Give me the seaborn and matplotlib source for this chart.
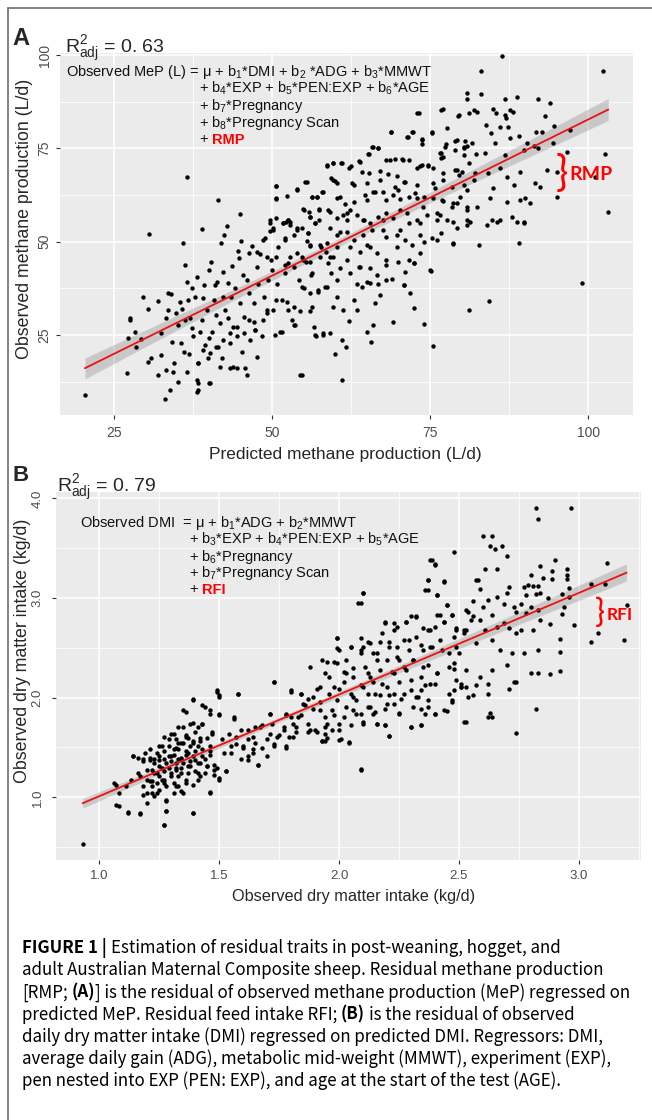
import numpy as np
import pandas as pd
import seaborn as sns
import matplotlib
matplotlib.use('Agg')
import matplotlib.pyplot as plt
from matplotlib.lines import Line2D
from matplotlib.font_manager import FontProperties

# ---------------- panel A: predicted vs observed methane production (L/d)
# points, grouped by region (x = predicted, y = observed)
mep_lower_left = [
    (20.4, 8.9),
    (27.0, 14.9), (27.2, 24.1), (27.5, 29.5), (27.6, 29.0), (28.3, 25.9), (28.5, 21.9), (29.3, 23.8), (29.6, 35.3), (30.4, 32.1),
    (30.4, 17.7), (30.6, 52.2), (30.9, 18.7), (32.0, 14.3), (32.0, 34.1), (32.5, 19.6), (32.5, 25.6), (33.0, 7.8), (33.3, 15.6), (33.3, 29.5),
    (33.5, 31.7), (33.5, 36.2), (33.8, 10.3), (34.0, 35.9), (34.1, 23.2), (34.3, 15.2), (34.5, 17.4), (34.8, 30.8), (35.1, 27.7), (35.1, 12.5),
    (35.4, 33.9), (35.6, 22.8), (35.8, 32.0), (35.9, 49.7), (36.0, 20.5), (36.2, 29.0), (36.2, 43.8), (36.5, 15.2), (36.6, 39.3), (36.7, 34.4),
    (36.9, 19.9), (37.0, 29.5), (37.3, 26.8), (37.4, 37.5), (37.5, 24.6), (37.8, 35.3), (38.1, 40.6), (38.2, 9.8), (38.3, 17.4), (38.3, 12.2),
    (38.6, 25.9), (38.9, 29.0), (39.0, 53.3), (39.1, 34.8), (39.2, 38.4), (39.4, 22.3), (39.7, 31.7), (40.0, 42.4), (40.0, 24.1), (40.1, 12.2),
    (40.3, 44.6), (40.5, 25.9), (40.8, 34.4), (41.0, 38.4), (41.2, 30.4), (41.3, 39.3), (41.5, 21.9), (41.8, 28.1), (41.9, 49.7), (42.1, 18.7),
    (42.2, 35.3), (42.3, 42.0), (42.4, 51.8), (42.6, 31.7), (42.8, 54.2), (43.0, 29.5), (43.1, 38.9), (43.4, 22.8), (43.5, 35.3), (43.6, 43.5),
    (43.8, 27.2), (43.9, 16.5), (44.2, 37.5), (44.5, 24.6), (44.6, 47.5), (44.7, 45.7), (44.9, 33.5), (45.0, 57.4), (45.1, 50.2), (45.2, 20.5),
    (45.4, 41.1), (45.5, 29.9), (45.7, 16.1), (46.0, 39.7), (46.3, 47.1), (46.4, 36.2), (46.5, 23.7), (46.8, 48.9), (47.1, 28.6), (47.2, 33.5),
    (47.3, 26.3), (47.6, 19.2), (47.7, 43.3), (47.8, 38.8), (48.1, 46.6), (48.4, 24.6), (48.7, 35.3), (48.9, 50.9), (49.2, 30.8), (49.4, 39.7),
    (49.6, 53.0), (49.8, 45.1), (50.0, 42.4), (50.2, 31.7), (50.5, 25.0), (50.6, 56.3), (50.8, 38.8), (51.0, 48.7), (51.3, 25.9), (51.6, 34.4),
    (51.8, 54.9), (52.1, 41.5), (52.2, 55.4), (52.5, 44.2), (52.6, 31.7), (52.9, 46.0), (53.1, 29.0), (53.4, 51.8), (53.7, 27.7), (54.0, 47.1),
    (54.2, 39.7), (54.5, 14.3), (54.8, 53.6), (55.0, 37.5), (55.3, 44.6), (55.5, 50.2), (55.8, 58.0), (56.1, 41.1), (56.3, 32.6), (56.6, 27.2),
    (56.9, 24.6), (57.2, 36.6), (57.5, 55.8), (57.7, 48.7), (58.0, 25.5), (58.3, 37.9), (58.8, 58.5), (59.1, 46.0),
]
mep_middle = [
    (50.7, 64.9), (53.9, 64.1), (55.5, 66.1), (50.7, 61.6), (56.3, 62.1), (57.1, 62.1), (54.9, 58.7), (56.0, 56.7), (57.5, 58.7), (52.8, 55.4),
    (53.9, 53.1), (55.7, 52.3), (56.8, 54.9), (49.7, 55.8), (50.2, 53.6), (52.1, 50.9), (52.6, 55.8), (56.0, 48.9), (48.6, 50.5), (47.6, 47.3),
    (49.2, 46.0), (50.7, 46.0), (52.1, 43.8), (53.4, 43.3), (54.9, 45.1), (56.3, 41.5), (54.7, 37.9), (56.0, 36.2), (57.3, 37.0), (56.0, 31.3),
    (54.4, 31.3), (53.4, 32.6), (52.3, 33.9), (50.7, 34.4), (49.2, 31.7), (48.6, 29.0), (47.3, 26.3), (46.3, 29.0), (45.5, 25.4), (44.4, 27.2),
    (43.4, 25.4), (42.3, 23.7), (41.2, 21.9), (40.2, 20.1), (39.9, 18.7), (39.1, 21.0), (38.3, 17.4), (38.1, 12.9), (38.3, 10.2), (40.2, 12.0),
    (41.8, 16.5), (43.4, 16.1), (44.4, 16.1), (46.0, 14.3), (51.5, 25.7), (53.4, 27.7), (54.7, 14.3), (56.8, 25.0), (41.4, 61.2), (36.6, 67.4),
]
mep_dense = [
    (72.9, 84.6), (76.8, 85.3), (79.5, 84.0), (68.8, 79.5), (71.4, 78.2), (72.3, 79.5), (73.8, 77.5), (75.3, 79.3), (73.7, 76.2), (77.5, 76.1),
    (79.0, 77.0), (80.3, 75.5), (80.6, 77.0), (65.9, 75.5), (66.8, 75.2), (65.2, 73.5), (76.7, 73.7), (80.3, 73.3), (58.7, 70.6), (59.7, 71.0),
    (61.0, 71.2), (62.1, 69.7), (63.8, 71.7), (64.2, 68.6), (65.4, 68.3), (67.1, 69.0), (68.1, 71.9), (69.4, 72.1), (70.7, 71.9), (68.4, 68.2),
    (69.7, 67.7), (71.0, 66.1), (72.9, 69.9), (73.8, 70.6), (74.7, 70.4), (76.8, 72.4), (77.1, 68.3), (79.0, 69.2), (79.5, 67.9), (80.0, 68.8),
    (59.4, 67.0), (60.0, 66.4), (62.6, 65.7), (50.6, 65.0), (53.9, 64.0), (55.2, 66.1), (57.9, 63.4), (56.3, 62.1), (57.1, 61.9), (50.7, 61.4),
    (52.3, 62.3), (60.2, 61.6), (61.5, 60.0), (62.9, 60.7), (65.0, 61.2), (66.3, 63.4), (67.6, 63.4), (69.2, 62.5), (70.0, 63.9), (71.6, 61.9),
    (72.9, 61.6), (73.9, 59.4), (75.5, 61.6), (77.1, 61.0), (78.4, 59.4), (79.7, 62.1), (80.8, 63.9), (55.0, 58.5), (56.0, 56.7), (57.5, 58.5),
    (59.2, 58.1), (60.2, 56.3), (61.2, 57.2), (61.8, 55.8), (62.3, 58.5), (63.4, 57.2), (64.4, 55.8), (65.5, 54.9), (66.8, 56.7), (68.1, 57.6),
    (69.2, 56.3), (70.3, 58.5), (71.6, 54.9), (72.9, 55.8), (74.5, 57.2), (76.1, 55.8), (77.6, 55.8), (79.2, 53.6), (80.8, 55.8), (51.8, 55.1),
    (52.8, 54.5), (53.9, 53.6), (55.7, 52.3), (56.8, 54.9), (59.2, 53.6), (60.2, 51.8), (61.8, 52.7), (64.4, 51.8), (65.8, 53.1), (67.6, 53.1),
    (69.7, 51.8), (71.0, 50.5), (72.1, 49.1), (73.4, 51.8), (75.3, 50.9), (76.8, 52.3), (78.7, 49.6), (49.7, 54.9), (50.2, 53.1), (52.1, 50.5),
    (52.6, 55.8), (56.0, 49.1), (57.6, 49.1), (58.6, 47.3), (60.2, 48.7), (62.3, 48.7), (63.9, 47.3), (65.0, 49.1), (66.6, 46.9), (68.1, 45.1),
    (69.7, 48.7), (72.4, 44.2), (75.1, 42.2), (54.7, 46.0), (56.0, 44.7), (57.6, 46.0), (58.9, 44.2), (59.4, 41.5), (60.8, 42.9), (62.3, 41.5),
    (63.7, 43.3), (65.5, 42.9), (66.6, 41.1), (63.4, 38.8), (65.0, 39.3), (66.8, 38.8), (68.1, 39.7), (70.8, 38.4), (71.0, 42.0),
]
mep_upper_right = [
    (86.3, 99.8), (83.1, 95.9), (102.3, 95.9), (80.8, 89.8), (80.8, 88.4), (83.1, 89.5), (86.9, 88.2), (88.7, 88.7), (92.0, 88.3), (93.9, 87.1),
    (73.2, 84.4), (77.1, 85.5), (79.4, 83.8), (81.1, 84.4), (81.9, 85.3), (82.4, 84.8), (84.9, 85.5), (85.4, 84.4), (86.9, 84.0), (87.6, 85.3),
    (88.1, 84.7), (87.0, 83.1), (93.2, 83.8), (68.8, 79.5), (71.5, 78.2), (72.1, 79.3), (73.8, 77.4), (75.3, 79.2), (77.6, 80.6), (79.2, 77.3),
    (80.8, 75.7), (81.6, 76.6), (83.8, 81.3), (84.7, 79.2), (85.3, 76.4), (86.1, 80.7), (87.4, 80.7), (87.7, 77.7), (89.1, 78.4), (90.3, 76.4),
    (91.8, 79.3), (92.7, 79.3), (94.6, 81.0), (97.1, 80.0), (91.4, 75.7), (92.1, 75.0), (94.5, 76.4), (65.8, 75.5), (66.8, 75.0), (65.4, 73.5),
    (77.4, 75.5), (76.6, 73.7), (78.9, 74.6), (80.3, 75.0), (82.2, 73.4), (83.7, 73.7), (86.9, 73.2), (89.8, 74.6), (96.6, 74.1), (102.7, 73.5),
    (58.7, 70.4), (59.7, 71.0), (60.9, 71.2), (62.5, 70.4), (63.9, 71.5), (68.7, 71.9), (70.5, 72.1), (71.6, 71.9), (73.4, 70.4), (74.6, 70.6),
    (75.5, 69.7), (77.0, 72.8), (79.2, 69.2), (81.2, 71.0), (82.1, 68.5), (84.2, 68.3), (86.1, 69.7), (89.2, 68.8), (93.5, 69.2), (95.0, 68.8),
    (101.1, 67.4), (59.7, 66.5), (60.2, 65.7), (62.9, 65.2), (65.0, 65.8), (67.1, 66.5), (69.5, 64.8), (70.8, 66.1), (72.9, 65.2), (75.5, 65.7),
    (77.1, 66.5), (78.4, 64.8), (80.3, 65.2), (81.9, 66.5), (85.0, 64.3), (87.1, 67.4), (88.2, 65.2), (91.6, 65.7), (92.4, 64.8), (95.0, 62.1),
    (58.1, 63.4), (60.8, 62.1), (64.7, 62.5), (66.0, 63.4), (68.1, 61.2), (70.3, 61.4), (72.6, 63.0), (74.0, 62.1), (75.8, 64.3), (76.9, 61.2),
    (79.2, 60.3), (80.8, 58.5), (82.4, 59.4), (84.5, 61.6), (85.6, 55.4), (87.1, 60.7), (89.2, 61.2), (90.0, 61.6), (90.8, 60.3), (103.2, 57.9),
    (88.7, 55.4), (89.8, 55.4), (76.1, 57.6), (78.7, 55.4), (81.3, 55.4), (84.8, 55.8),
]
mep_lower_right = [
    (89.1, 49.6), (82.7, 49.1), (78.7, 49.3), (80.8, 54.5), (84.0, 54.5), (86.1, 55.7), (87.9, 56.7), (89.9, 54.9), (75.0, 42.3), (99.1, 38.9),
    (84.4, 34.2), (81.2, 31.6), (74.1, 28.0), (75.5, 22.1), (69.1, 28.4), (72.4, 32.2), (71.8, 36.2), (70.8, 38.4), (68.9, 40.0), (66.0, 27.7),
    (65.6, 23.2), (65.1, 25.7), (61.0, 12.9), (60.0, 19.8), (61.7, 21.9), (61.0, 23.7), (59.2, 25.5), (58.1, 25.0), (62.1, 28.8), (63.4, 31.7),
    (61.3, 31.7), (59.7, 32.6), (62.9, 34.4), (60.2, 35.3), (66.3, 33.5), (67.1, 35.7), (64.2, 38.0), (58.7, 38.0), (60.2, 39.8), (65.5, 38.9),
    (68.1, 43.8), (70.0, 44.7), (71.6, 45.1), (73.4, 46.9), (76.1, 50.5), (74.0, 50.0), (72.4, 44.2), (63.9, 43.3), (61.8, 45.1), (59.7, 46.0),
    (65.5, 48.7), (62.9, 50.5), (58.7, 49.6), (60.8, 52.7), (68.1, 51.4), (70.3, 53.2), (67.6, 55.8), (64.5, 55.8), (61.8, 57.6), (71.3, 57.6),
    (73.4, 54.9), (76.6, 57.2), (78.7, 60.3), (80.8, 59.4),
]

# ---------------- panel B: predicted vs observed dry matter intake (kg/d)
dmi_left = [
    (0.93, 0.53), (1.07, 1.12), (1.06, 1.14), (1.07, 0.92), (1.08, 0.91), (1.12, 0.85), (1.08, 1.04), (1.11, 1.11), (1.14, 1.41), (1.13, 1.17),
    (1.17, 0.84), (1.16, 1.24), (1.18, 1.11), (1.18, 1.02), (1.20, 0.94), (1.21, 1.39), (1.20, 1.27), (1.22, 1.16), (1.23, 1.34), (1.23, 1.01),
    (1.24, 1.44), (1.25, 1.21), (1.25, 1.31), (1.26, 1.51), (1.27, 1.14), (1.27, 1.26), (1.28, 1.34), (1.27, 0.72), (1.28, 0.86), (1.28, 0.97),
    (1.29, 1.58), (1.30, 1.41), (1.30, 1.21), (1.31, 1.64), (1.32, 1.49), (1.32, 1.29), (1.33, 1.11), (1.34, 1.54), (1.34, 1.38), (1.35, 1.71),
    (1.35, 1.88), (1.36, 1.17), (1.36, 1.46), (1.37, 1.59), (1.38, 1.31), (1.39, 1.75), (1.39, 1.99), (1.39, 0.84), (1.39, 1.41), (1.40, 1.66),
    (1.41, 1.17), (1.41, 1.51), (1.42, 1.34), (1.43, 1.74), (1.43, 1.93), (1.44, 1.24), (1.45, 1.59), (1.46, 1.84), (1.46, 1.04), (1.46, 1.42),
    (1.47, 1.66), (1.48, 1.27), (1.49, 2.08), (1.50, 1.84), (1.50, 1.19), (1.50, 2.03), (1.51, 1.58), (1.52, 1.44), (1.53, 1.26), (1.55, 1.51),
    (1.56, 1.81), (1.57, 1.61), (1.58, 2.04), (1.59, 1.38), (1.60, 1.49), (1.62, 1.68), (1.62, 1.41), (1.64, 1.61), (1.65, 1.54), (1.66, 1.32),
    (1.67, 1.71), (1.68, 1.49), (1.70, 1.58), (1.71, 1.84), (1.72, 1.74), (1.73, 2.16), (1.73, 1.51), (1.75, 1.63), (1.77, 1.68), (1.78, 1.49),
    (1.78, 1.84), (1.80, 1.81), (1.80, 2.08), (1.81, 1.61), (1.82, 1.71), (1.84, 1.83), (1.84, 2.04), (1.86, 1.93), (1.87, 1.66), (1.87, 1.74),
    (1.89, 2.01), (1.90, 1.68), (1.91, 2.09), (1.92, 1.88), (1.93, 1.56), (1.94, 1.71),
]
dmi_cluster = [
    (1.18, 1.38), (1.21, 1.48), (1.22, 1.27), (1.23, 1.38), (1.24, 1.24), (1.25, 1.41), (1.26, 1.17), (1.27, 1.38), (1.27, 1.46), (1.28, 1.11),
    (1.29, 1.29), (1.29, 1.51), (1.30, 1.36), (1.31, 1.14), (1.31, 1.42), (1.32, 1.27), (1.32, 1.58), (1.33, 1.38), (1.33, 1.21), (1.33, 1.48),
    (1.34, 1.29), (1.35, 1.54), (1.35, 1.34), (1.36, 1.42), (1.36, 1.63), (1.37, 1.24), (1.38, 1.51), (1.38, 1.36), (1.39, 1.56), (1.40, 1.26),
    (1.40, 1.46), (1.41, 1.34), (1.42, 1.59), (1.42, 1.21), (1.43, 1.48), (1.44, 1.38), (1.45, 1.31), (1.46, 1.51), (1.36, 1.14), (1.34, 1.06),
    (1.31, 1.04), (1.25, 1.07), (1.24, 1.14), (1.22, 1.04), (1.20, 1.17),
]
dmi_middle = [
    (1.12, 0.84), (1.17, 0.83), (1.14, 1.41), (1.16, 1.39), (1.18, 1.36), (1.19, 1.44), (1.21, 1.37), (1.17, 1.21), (1.20, 1.04), (1.21, 1.16),
    (1.22, 1.11), (1.23, 1.24), (1.24, 1.04), (1.25, 1.37), (1.25, 1.51), (1.26, 1.29), (1.27, 1.17), (1.27, 1.61), (1.28, 0.96), (1.28, 0.86),
    (1.27, 0.72), (1.29, 1.41), (1.30, 1.24), (1.30, 1.64), (1.31, 1.48), (1.32, 1.34), (1.32, 1.11), (1.33, 1.71), (1.33, 1.54), (1.34, 1.39),
    (1.34, 1.24), (1.35, 1.04), (1.36, 1.86), (1.36, 1.61), (1.37, 1.44), (1.37, 1.31), (1.38, 1.74), (1.39, 1.98), (1.39, 1.54), (1.39, 0.84),
    (1.39, 1.12), (1.40, 1.37), (1.41, 1.71), (1.41, 1.24), (1.42, 1.56), (1.43, 1.41), (1.43, 1.74), (1.44, 1.91), (1.45, 1.31), (1.46, 1.88),
    (1.46, 1.05), (1.46, 1.46), (1.47, 1.64), (1.48, 1.22), (1.48, 1.32), (1.49, 1.29), (1.49, 2.06), (1.50, 2.01), (1.50, 1.83), (1.50, 1.17),
    (1.53, 1.26), (1.54, 1.64), (1.55, 1.44), (1.56, 1.79), (1.57, 1.53), (1.58, 2.04), (1.59, 1.68), (1.60, 1.51), (1.62, 1.37), (1.62, 1.58),
    (1.64, 1.48), (1.64, 1.44), (1.65, 1.71), (1.66, 1.32), (1.68, 1.73), (1.70, 1.41), (1.71, 1.84), (1.71, 1.64), (1.73, 1.53), (1.73, 2.16),
    (1.74, 1.61), (1.77, 1.71), (1.78, 1.83), (1.78, 1.51), (1.79, 1.61), (1.80, 2.06), (1.81, 1.74), (1.82, 1.66), (1.83, 1.81), (1.84, 2.04),
    (1.85, 1.94), (1.87, 1.99), (1.88, 2.31), (1.88, 1.68), (1.89, 1.89), (1.91, 1.66), (1.92, 2.11), (1.92, 1.96), (1.93, 2.38), (1.93, 1.56),
    (1.94, 1.81), (1.95, 1.59), (1.96, 2.04), (1.96, 2.21), (1.97, 1.88), (1.98, 2.36), (1.99, 2.60), (1.99, 1.98), (1.99, 2.50), (2.00, 1.74),
    (2.00, 2.09), (2.01, 1.58), (2.02, 2.26), (2.03, 1.91), (2.03, 2.38), (2.04, 1.54), (2.05, 2.04), (2.05, 2.51), (2.06, 2.21), (2.07, 1.84),
    (2.07, 1.98), (2.08, 2.95), (2.09, 2.48), (2.09, 1.27), (2.10, 3.05), (2.10, 2.11), (2.10, 1.74), (2.11, 2.31), (2.12, 2.56), (2.12, 1.91),
    (2.13, 2.21), (2.14, 2.45), (2.14, 1.84), (2.15, 2.04), (2.16, 1.74), (2.16, 2.38), (2.17, 2.56), (2.18, 2.14), (2.19, 1.73), (2.19, 2.76),
    (2.20, 1.94), (2.21, 2.51), (2.21, 1.62), (2.22, 2.26), (2.23, 2.04), (2.23, 2.68), (2.24, 2.41), (2.25, 1.84), (2.25, 2.16), (2.26, 1.99),
    (2.27, 2.58), (2.28, 2.76), (2.28, 2.28), (2.29, 2.48), (2.30, 1.71), (2.30, 2.08), (2.31, 2.38), (2.32, 2.81), (2.32, 2.61), (2.33, 2.01),
    (2.34, 1.73), (2.34, 2.21), (2.35, 2.70), (2.35, 2.48), (2.36, 2.13), (2.37, 1.91), (2.37, 3.18), (2.37, 3.08), (2.37, 2.33), (2.38, 2.68),
    (2.39, 3.38), (2.40, 3.34), (2.39, 2.51), (2.40, 1.84), (2.41, 2.25), (2.41, 3.03), (2.42, 2.83), (2.43, 2.48), (2.44, 3.17), (2.44, 2.76),
    (2.44, 1.88), (2.45, 2.93), (2.46, 2.31), (2.46, 2.04), (2.47, 2.83), (2.47, 1.96), (2.48, 2.61), (2.48, 2.29), (2.49, 2.68), (2.50, 2.45),
    (2.51, 2.11), (2.51, 2.14), (2.52, 2.68), (2.53, 1.76), (2.54, 2.86), (2.54, 2.01),
]
dmi_upper_right = [
    (2.82, 3.90), (2.83, 3.79), (2.97, 3.90), (2.60, 3.62), (2.64, 3.62), (2.63, 3.52), (2.65, 3.49), (2.68, 3.52), (2.70, 3.42), (2.48, 3.46),
    (2.38, 3.38), (2.40, 3.33), (3.12, 3.35), (2.61, 3.29), (2.66, 3.29), (2.84, 3.32), (2.90, 3.38), (2.95, 3.29), (2.89, 3.27), (2.95, 3.23),
    (2.37, 3.18), (2.44, 3.16), (2.57, 3.18), (2.58, 3.18), (2.80, 3.23), (2.85, 3.20), (2.89, 3.19), (2.95, 3.19), (3.05, 3.14), (3.11, 3.14),
    (2.36, 3.08), (2.41, 3.03), (2.59, 3.09), (2.71, 3.11), (2.70, 3.05), (2.77, 3.11), (2.79, 3.13), (2.81, 3.12), (2.83, 3.12), (2.78, 3.03),
    (2.82, 3.04), (2.84, 3.05), (2.87, 3.00), (2.93, 3.04), (2.96, 3.10), (2.96, 3.01), (2.10, 3.05), (2.09, 2.95), (2.56, 2.97), (2.62, 2.98),
    (2.66, 3.01), (2.69, 2.94), (2.73, 2.91), (2.76, 2.94), (2.80, 2.91), (2.45, 2.93), (2.53, 2.88), (2.60, 2.91), (2.64, 2.83), (2.74, 2.86),
    (2.78, 2.85), (2.83, 2.88), (2.94, 2.91), (2.98, 2.73), (3.20, 2.93), (3.08, 2.65), (3.05, 2.56), (3.19, 2.58), (2.92, 2.59), (2.93, 2.84),
    (2.88, 2.74), (2.84, 2.78), (2.81, 2.68), (2.83, 2.48), (2.76, 2.68), (2.74, 2.65), (2.71, 2.70), (2.69, 2.75), (2.66, 2.71), (2.64, 2.58),
    (2.61, 2.68), (2.59, 2.78), (2.56, 2.82), (2.55, 2.78), (2.53, 2.68), (2.52, 2.65), (2.49, 2.70), (2.47, 2.83), (2.44, 2.76), (2.41, 2.83),
    (2.40, 2.71), (2.37, 2.68), (2.32, 2.82), (2.30, 2.82), (2.28, 2.76), (2.24, 2.71), (2.23, 2.75), (2.19, 2.75), (2.18, 2.65), (2.21, 2.56),
    (2.24, 2.51), (2.29, 2.58), (2.34, 2.53), (2.38, 2.51), (2.42, 2.58), (2.46, 2.45), (2.49, 2.51), (2.57, 2.55), (2.67, 2.48), (2.72, 2.45),
    (2.77, 2.45), (2.83, 2.25), (2.80, 2.25), (2.88, 2.24), (2.92, 2.27), (2.92, 2.46), (2.09, 2.60), (2.10, 2.51), (2.13, 2.55), (2.05, 2.51),
    (1.99, 2.60), (2.00, 2.48), (2.09, 2.45), (2.16, 2.45), (2.20, 2.38), (2.25, 2.38), (2.31, 2.38), (2.35, 2.31), (2.41, 2.25), (2.48, 2.35),
    (2.53, 2.28), (2.59, 2.21), (2.64, 2.28), (2.70, 2.33), (2.73, 2.16), (1.95, 2.36), (1.94, 2.25), (1.99, 2.35), (2.03, 2.25), (2.06, 2.30),
    (2.12, 2.25), (2.17, 2.28), (2.23, 2.25), (2.27, 2.31), (2.30, 2.18), (2.38, 2.14), (2.49, 2.18), (2.62, 2.14), (1.98, 2.11), (2.02, 2.16),
    (2.09, 2.13), (2.14, 2.16), (2.20, 2.11), (2.34, 2.08),
]
dmi_lower_right = [
    (2.09, 1.28), (2.21, 1.62), (2.04, 1.55), (2.00, 1.57), (1.94, 1.56), (1.94, 1.64), (1.97, 1.68), (2.00, 1.68), (2.05, 1.73), (2.10, 1.76),
    (2.16, 1.74), (2.19, 1.73), (2.30, 1.71), (2.34, 1.73), (2.52, 1.76), (2.74, 1.65), (2.82, 1.89), (2.62, 1.81), (2.63, 1.85), (2.64, 1.81),
    (2.71, 2.09), (2.74, 2.16), (2.45, 1.87), (2.40, 1.84), (2.36, 1.84), (2.34, 1.89), (2.31, 1.91), (2.25, 1.85), (2.23, 1.94), (2.19, 1.89),
    (2.15, 1.86), (2.13, 1.91), (2.09, 1.84), (2.06, 1.88), (2.02, 1.81), (1.98, 1.83), (1.95, 1.74), (2.06, 2.01), (2.12, 2.04), (2.17, 2.03),
    (2.21, 2.03), (2.27, 2.04), (2.32, 2.01), (2.37, 1.98), (2.47, 1.98), (2.48, 2.08), (2.51, 2.11), (2.56, 2.03), (2.57, 2.13), (2.62, 2.04),
    (2.53, 2.11), (2.40, 2.14),
]

# axis ticks
mep_ticks = [25, 50, 75, 100]
mep_minor = [12.5, 37.5, 62.5, 87.5]
dmi_xticks = [1.0, 1.5, 2.0, 2.5, 3.0]
dmi_xminor = [1.25, 1.75, 2.25, 2.75, 3.25]
dmi_yticks = [1.0, 2.0, 3.0, 4.0]
dmi_yminor = [0.5, 1.5, 2.5, 3.5]

caption_lines = [
    [("FIGURE 1 |", 'bold'), (" Estimation of residual traits in post-weaning, hogget, and", 'normal')],
    [("adult Australian Maternal Composite sheep. Residual methane production", 'normal')],
    [("[RMP; ", 'normal'), ("(A)", 'bold'), ("] is the residual of observed methane production (MeP) regressed on", 'normal')],
    [("predicted MeP. Residual feed intake RFI; ", 'normal'), ("(B)", 'bold'), (" is the residual of observed", 'normal')],
    [("daily dry matter intake (DMI) regressed on predicted DMI. Regressors: DMI,", 'normal')],
    [("average daily gain (ADG), metabolic mid-weight (MMWT), experiment (EXP),", 'normal')],
    [("pen nested into EXP (PEN: EXP), and age at the start of the test (AGE).", 'normal')],
]

dfA = pd.DataFrame(mep_lower_left + mep_middle + mep_dense + mep_upper_right + mep_lower_right,
                   columns=['pred', 'obs'])
dfB = pd.DataFrame(dmi_left + dmi_cluster + dmi_middle + dmi_upper_right + dmi_lower_right,
                   columns=['pred', 'obs'])

sns.set_theme(style='darkgrid', rc={'axes.facecolor': '#EBEBEB', 'grid.color': 'white'})
plt.rcParams['font.family'] = ['Liberation Sans', 'DejaVu Sans']
plt.rcParams['mathtext.fontset'] = 'custom'
plt.rcParams['mathtext.rm'] = 'Liberation Sans'
plt.rcParams['mathtext.it'] = 'Liberation Sans:italic'
plt.rcParams['mathtext.bf'] = 'Liberation Sans:bold'

W, H = 652, 1120
fig = plt.figure(figsize=(W / 100, H / 100), dpi=100)
fig.patch.set_facecolor('white')


def fx(px):
    return px / W


def fy(py):
    return 1 - py / H


axA = fig.add_axes([fx(60), fy(415), (633 - 60) / W, (415 - 53) / H])
axB = fig.add_axes([fx(56), fy(860), (641 - 56) / W, (860 - 492) / H])


def draw_panel(ax, df):
    sns.scatterplot(data=df, x='pred', y='obs', ax=ax, s=10, color='black', linewidth=0, zorder=2)
    # grey confidence band, then the red fitted line on top
    sns.regplot(data=df, x='pred', y='obs', ax=ax, scatter=False, color='black', seed=7,
                line_kws={'alpha': 0})
    sns.regplot(data=df, x='pred', y='obs', ax=ax, scatter=False, ci=None, color='#EE1111',
                line_kws={'lw': 1.3, 'zorder': 4})
    ax.set_xlabel('')
    ax.set_ylabel('')


def style_axis(ax, xt, xm, yt, ym, xlim, ylim, xlab, ylab, size, xpad, ypad):
    ax.set_xlim(xlim)
    ax.set_ylim(ylim)
    ax.set_xticks(xt)
    ax.set_xticks(xm, minor=True)
    ax.set_yticks(yt)
    ax.set_yticks(ym, minor=True)
    ax.set_xticklabels(xlab)
    ax.set_yticklabels(ylab)
    ax.grid(which='major', color='white', lw=1.1)
    ax.grid(which='minor', color='white', lw=0.55)
    for s in ax.spines.values():
        s.set_visible(False)
    ax.tick_params(which='major', length=3, width=0.8, color='#333333', labelcolor='#4D4D4D',
                   labelsize=size, bottom=True, left=True)
    ax.tick_params(axis='x', pad=xpad)
    ax.tick_params(axis='y', pad=ypad)
    ax.tick_params(which='minor', length=0)
    for lab in ax.get_yticklabels():
        lab.set_rotation(90)
        lab.set_va('center')


draw_panel(axA, dfA)
draw_panel(axB, dfB)
style_axis(axA, mep_ticks, mep_minor[1:], mep_ticks, mep_minor, (16.46, 107.1), (3.55, 100.6),
           [str(t) for t in mep_ticks], [str(t) for t in mep_ticks], 10, 5, 3)
style_axis(axB, dmi_xticks, dmi_xminor, dmi_yticks, dmi_yminor, (0.819, 3.26), (0.37, 4.065),
           [f'{t:.1f}' for t in dmi_xticks], [f'{t:.1f}' for t in dmi_yticks], 9.5, 4, 6)

# axis titles
fig.text(fx(345), fy(455), 'Predicted methane production (L/d)', ha='center', va='center', fontsize=12.5)
fig.text(fx(25), fy(219), 'Observed methane production (L/d)', ha='center', va='center', fontsize=12.8, rotation=90)
fig.text(fx(354), fy(897), 'Observed dry matter intake (kg/d)', ha='center', va='center', fontsize=11.7)
fig.text(fx(23), fy(651), 'Observed dry matter intake (kg/d)', ha='center', va='center', fontsize=12.8, rotation=90)

renderer = fig.canvas.get_renderer()


def ink_w(s, prop):
    return renderer.get_text_width_height_descent(s, prop, ismath=False)[0]


def run_widths(runs, size, family):
    total = 0.0
    for s, weight in runs:
        prop = FontProperties(family=family, size=size, weight=weight)
        sp = ink_w('x x', prop) - ink_w('xx', prop)
        core = s.strip(' ')
        total += (len(s) - len(core)) * sp + ink_w('x' + core + 'x', prop) - ink_w('xx', prop)
    return total


def draw_runs(x_px, y_px, runs, size, family, colors=None):
    x = x_px
    for i, (s, weight) in enumerate(runs):
        color = colors[i] if colors else 'black'
        prop = FontProperties(family=family, size=size, weight=weight)
        sp = ink_w('x x', prop) - ink_w('xx', prop)
        lead = len(s) - len(s.lstrip(' '))
        trail = len(s) - len(s.rstrip(' '))
        core = s.strip(' ')
        x += lead * sp
        fig.text(fx(x), fy(y_px), core, fontproperties=prop, color=color, ha='left', va='baseline')
        x += ink_w('x' + core + 'x', prop) - ink_w('xx', prop)
        x += trail * sp


plain = ['Liberation Sans', 'DejaVu Sans']

# panel letters and R2
fig.text(fx(12), fy(45), 'A', fontsize=17, fontweight='bold', va='baseline')
fig.text(fx(13), fy(481), 'B', fontsize=16, fontweight='bold', va='baseline')
fig.text(fx(65), fy(53), r'$\mathrm{R}^{2}_{\mathrm{adj}}$ = 0. 63', fontsize=14, va='baseline')
fig.text(fx(57), fy(492), r'$\mathrm{R}^{2}_{\mathrm{adj}}$ = 0. 79', fontsize=14, va='baseline')

# model equations
eq_size = 10.5
eqA = [(66, 76, 'Observed MeP (L) = μ + b$_1$*DMI + b$_2$ *ADG + b$_3$*MMWT'),
       (199, 93, '+ b$_4$*EXP + b$_5$*PEN:EXP + b$_6$*AGE'),
       (199, 110, '+ b$_7$*Pregnancy'),
       (199, 127, '+ b$_8$*Pregnancy Scan')]
for x, y, s in eqA:
    fig.text(fx(x), fy(y), s, fontsize=eq_size, va='baseline', color='#111111')
draw_runs(199, 143.5, [('+ ', 'normal'), ('RMP', 'bold')], eq_size, plain, ['#111111', '#FF0000'])

eqB = [(80, 527, 'Observed DMI  = μ + b$_1$*ADG + b$_2$*MMWT'),
       (189, 544, '+ b$_3$*EXP + b$_4$*PEN:EXP + b$_5$*AGE'),
       (189, 560.5, '+ b$_6$*Pregnancy'),
       (189, 577, '+ b$_7$*Pregnancy Scan')]
for x, y, s in eqB:
    fig.text(fx(x), fy(y), s, fontsize=eq_size, va='baseline', color='#111111')
draw_runs(189, 593.5, [('+ ', 'normal'), ('RFI', 'bold')], eq_size, plain, ['#111111', '#FF0000'])

# red braces marking the residual
fig.text(fx(562), fy(173), '}', fontsize=30, color='#FF0000', ha='center', va='center', family=['Lato', 'DejaVu Sans'])
fig.text(fx(569), fy(180), 'RMP', fontsize=14, color='#FF0000', fontweight='bold', va='baseline', family=['Lato', 'DejaVu Sans'])
fig.text(fx(600), fy(613), '}', fontsize=24, color='#FF0000', ha='center', va='center', family=['Lato', 'DejaVu Sans'])
fig.text(fx(607), fy(620), 'RFI', fontsize=12.5, color='#FF0000', fontweight='bold', va='baseline', family=['Lato', 'DejaVu Sans'])

# caption in a narrow sans, sized so the widest line fits the column
cap_family = ['Noto Sans CJK SC', 'Liberation Sans']
cap_size = 15.0
widest = max(run_widths(r, cap_size, cap_family) for r in caption_lines)
cap_size = cap_size * min(1.0, 610 / widest)
for i, runs in enumerate(caption_lines):
    draw_runs(22, 953 + i * 22.2, runs, cap_size, cap_family)

# thin frame on the left and top
fig.add_artist(Line2D([fx(8), 1], [fy(8), fy(8)], transform=fig.transFigure, color='#6E6E6E', lw=1.2))
fig.add_artist(Line2D([fx(8), fx(8)], [0, fy(8)], transform=fig.transFigure, color='#6E6E6E', lw=1.2))

fig.savefig('out.png', dpi=100)
